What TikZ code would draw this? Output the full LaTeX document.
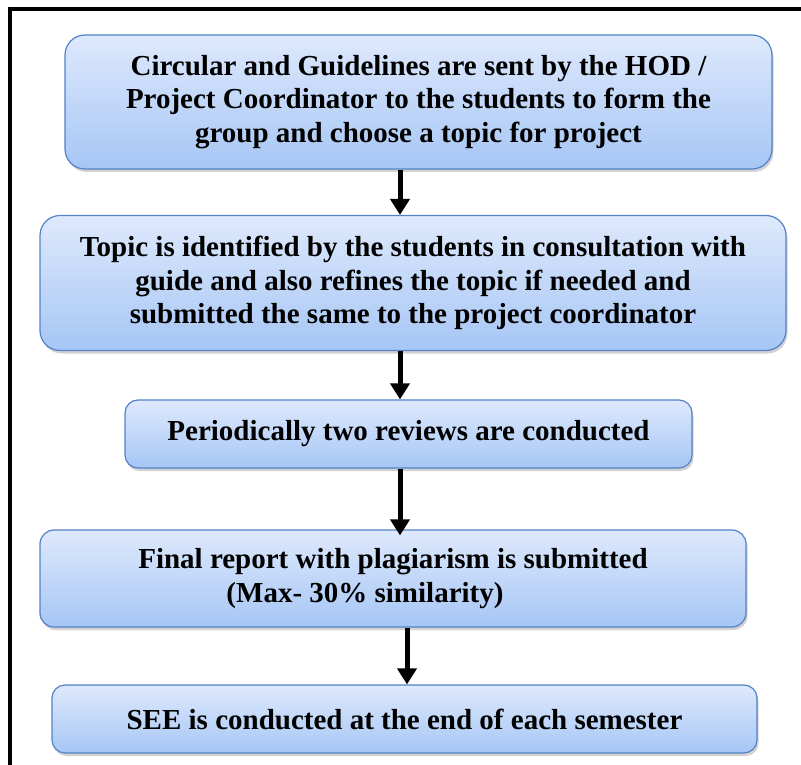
\documentclass[tikz,border=0pt]{standalone}
\usepackage{fontspec}
\setmainfont{Liberation Serif}
\usetikzlibrary{arrows.meta,shadows}

\begin{document}
\begin{tikzpicture}[x=1pt,y=-1pt]
  % Colors
    \definecolor{boxtop}{RGB}{222,233,252}
    \definecolor{boxbot}{RGB}{166,198,245}
    \definecolor{boxline}{RGB}{84,130,200}

  % Styles
    \tikzstyle{stepbox}=[draw=boxline, line width=1.2pt, top color=boxtop, bottom color=boxbot,
      drop shadow={opacity=0.35, shadow xshift=1.5pt, shadow yshift=-3pt},
      align=center, font=\bfseries\fontsize{29}{33.5}\selectfont, inner sep=0pt]
    \tikzstyle{flowarrow}=[line width=5pt, -{Triangle[length=16pt,width=19pt]}]

  % The graphic
    \useasboundingbox (0,0) rectangle (801,765);
    \fill[white] (0,0) rectangle (801,765);
    \draw[line width=4pt] (10,765) -- (10,9) -- (801,9);

    \node[stepbox, rounded corners=20pt, minimum width=707pt, minimum height=134pt] (circ) at (418.5,102)
      {Circular and Guidelines are sent by the HOD /\\ Project Coordinator to the students to form the\\ group and choose a topic for project};
    \node[stepbox, rounded corners=20pt, minimum width=746pt, minimum height=135pt] (topic) at (413,283)
      {Topic is identified by the students in consultation with\\ guide and also refines the topic if needed and\\ submitted the same to the project coordinator};
    \node[stepbox, rounded corners=13pt, minimum width=567pt, minimum height=68pt] (review) at (408.5,434)
      {Periodically two reviews are conducted};
    \node[stepbox, rounded corners=14pt, minimum width=706pt, minimum height=97pt] (report) at (393,578.5)
      {Final report with plagiarism is submitted\\ (Max- 30\% similarity)\hspace*{56pt}};
    \node[stepbox, rounded corners=13pt, minimum width=705pt, minimum height=68pt] (see) at (404.5,719)
      {SEE is conducted at the end of each semester};

    \draw[flowarrow] (circ.south -| 400,0) -- (topic.north -| 400,0);
    \draw[flowarrow] (topic.south -| 400,0) -- (review.north -| 400,0);
    \draw[flowarrow] (review.south -| 400,0) -- ([yshift=-6pt]report.north -| 400,0);
    \draw[flowarrow] (report.south -| 407,0) -- (see.north -| 407,0);
\end{tikzpicture}
\end{document}
